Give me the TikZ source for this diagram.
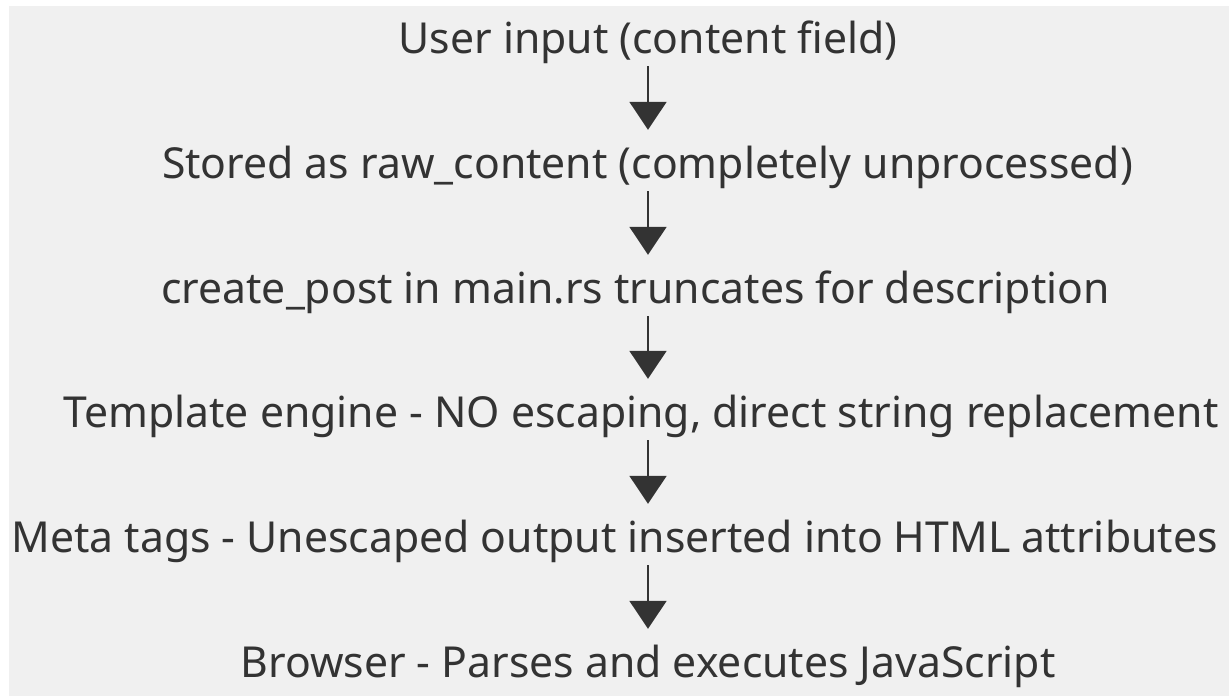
\documentclass[tikz,border=0pt]{standalone}
\usepackage{fontspec}
\setmainfont{Noto Sans}
\usetikzlibrary{arrows.meta}
\definecolor{bggray}{HTML}{F0F0F0}
\definecolor{ink}{HTML}{333333}
\tikzset{
  lbl/.style={anchor=base, inner sep=0pt, text height=31pt, text depth=10pt, text=ink,
    font=\fontsize{42.7pt}{50pt}\selectfont},
  flow/.style={draw=ink, line width=2pt, -{Triangle[width=37pt,length=28pt]},
    shorten <=3pt, shorten >=17pt}
}
\begin{document}
\begin{tikzpicture}[x=1pt,y=-1pt]
\useasboundingbox (0,0) rectangle (1229,696);
\fill[white] (0,0) rectangle (1229,696);
\fill[bggray] (9,6) rectangle (1229,696);
\coordinate (axis) at (648,0);
\node[lbl] (n1) at (648,53) {User input (content field)};
\node[lbl] (n2) at (647.5,178) {Stored as raw\_content (completely unprocessed)};
\node[lbl] (n3) at (635.5,303) {create\_post in main.rs truncates for description};
\node[lbl] (n4) at (641,427) {Template engine - NO escaping, direct string replacement};
\node[lbl] (n5) at (614.5,552) {Meta tags - Unescaped output inserted into HTML attributes};
\node[lbl] (n6) at (648,677) {Browser - Parses and executes JavaScript};
\draw[flow] (n1.south -| axis) -- (n2.north -| axis);
\draw[flow] (n2.south -| axis) -- (n3.north -| axis);
\draw[flow] (n3.south -| axis) -- (n4.north -| axis);
\draw[flow] (n4.south -| axis) -- (n5.north -| axis);
\draw[flow] (n5.south -| axis) -- (n6.north -| axis);
\end{tikzpicture}
\end{document}
